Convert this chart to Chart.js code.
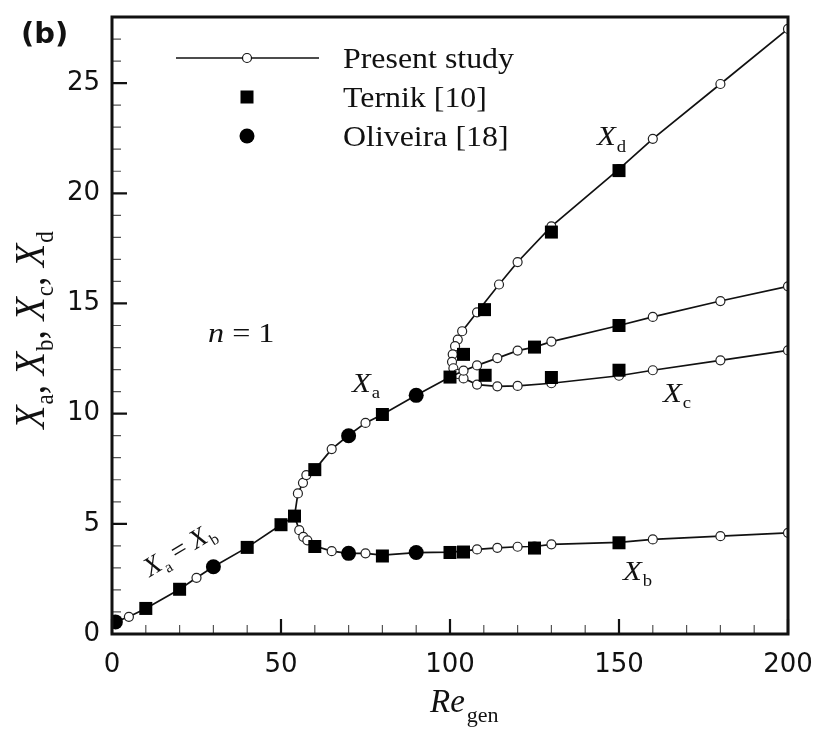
<!DOCTYPE html>
<html>
<head>
<meta charset="utf-8">
<script src="https://cdn.jsdelivr.net/npm/chart.js@4.4.1/dist/chart.umd.min.js"></script>
<style>
html, body { margin: 0; padding: 0; background: #fff; }
#wrap { width: 817px; height: 733px; }
</style>
</head>
<body>
<div id="wrap"><canvas id="chart"></canvas></div>
<script>
// Present study, X_a = X_b up to the first bifurcation, then X_a
const presentA = [
    [1, 0.55], [5, 0.78], [10, 1.16], [20, 2.03], [25, 2.55], [30, 3.05], [40, 3.93], [50, 4.96],
    [54, 5.35], [55, 6.38], [56.5, 6.86], [57.5, 7.21], [60, 7.46], [65, 8.39], [70, 9.02], [75, 9.58],
    [80, 9.96], [90, 10.83], [100, 11.66], [104, 11.95], [108, 12.19], [114, 12.52], [120, 12.86],
    [125, 13.02], [130, 13.27], [150, 14.0], [160, 14.39], [180, 15.11], [200, 15.78]
];
// Present study, X_b branch
const presentB = [
    [54, 5.35], [55.4, 4.71], [56.6, 4.41], [57.8, 4.25], [60, 3.99], [65, 3.76], [70, 3.66], [75, 3.66],
    [80, 3.58], [90, 3.69], [100, 3.72], [104, 3.76], [108, 3.84], [114, 3.91], [120, 3.96], [125, 3.97],
    [130, 4.07], [150, 4.16], [160, 4.29], [180, 4.44], [200, 4.59]
];
// Present study, X_d branch then X_c branch (through the turning point near Re = 100)
const presentCD = [
    [200, 27.46], [180, 24.96], [160, 22.47], [150, 21.1], [130, 18.5], [120, 16.88], [114.5, 15.86],
    [108, 14.6], [103.6, 13.74], [102.3, 13.36], [101.5, 13.06], [100.8, 12.69], [100.6, 12.35],
    [101, 12.06], [102.3, 11.8], [104, 11.6], [108, 11.32], [114, 11.24], [120, 11.26], [130, 11.38],
    [150, 11.72], [160, 11.97], [180, 12.42], [200, 12.87]
];
const ternik = [
    [10, 1.16], [20, 2.03], [40, 3.93], [50, 4.96], [54, 5.35], [60, 7.46], [80, 9.96], [100, 11.66],
    [60, 3.97], [80, 3.54], [100, 3.7], [104, 3.72], [125, 3.9], [150, 4.14],
    [104, 12.69], [110.2, 14.72], [130, 18.24], [150, 21.03],
    [110.4, 11.74], [130, 11.64], [150, 11.97], [125, 13.02], [150, 14.0]
];
const oliveira = [
    [1, 0.55], [30, 3.05], [70, 9.0], [90, 10.83], [70, 3.66], [90, 3.70]
];

const xMajor = [0, 50, 100, 150, 200];
const xMinor = [10, 20, 30, 40, 60, 70, 80, 90, 110, 120, 130, 140, 160, 170, 180, 190];
const yMajor = [0, 5, 10, 15, 20, 25];
const yMinor = [1, 2, 3, 4, 6, 7, 8, 9, 11, 12, 13, 14, 16, 17, 18, 19, 21, 22, 23, 24, 26, 27];

const legendItems = ['Present study', 'Ternik [10]', 'Oliveira [18]'];

const toXY = arr => arr.map(p => ({ x: p[0], y: p[1] }));

const SERIF = '"Liberation Serif", "Times New Roman", serif';

function presentSet(data) {
    return {
        data: toXY(data),
        showLine: true,
        borderColor: '#111',
        borderWidth: 1.7,
        pointStyle: 'circle',
        pointRadius: 4.5,
        pointBackgroundColor: '#fff',
        pointBorderColor: '#222',
        pointBorderWidth: 1.2,
        tension: 0,
        order: 2
    };
}

// text with optional horizontal stretch
function stretchText(ctx, text, x, y, font, sx) {
    ctx.save();
    ctx.font = font;
    ctx.translate(x, y);
    ctx.scale(sx, 1);
    ctx.fillText(text, 0, 0);
    const w = ctx.measureText(text).width * sx;
    ctx.restore();
    return w;
}

function subText(ctx, main, sub, x, y, size, sx) {
    let w = stretchText(ctx, main, x, y, 'italic ' + size + 'px ' + SERIF, sx);
    w += stretchText(ctx, sub, x + w + 1, y + size * 0.22, Math.round(size * 0.6) + 'px ' + SERIF, sx);
    return w + 1;
}

function noPadding(scale) {
    scale.paddingLeft = 0;
    scale.paddingRight = 0;
    scale.paddingTop = 0;
    scale.paddingBottom = 0;
}

const decor = {
    id: 'decor',
    afterDatasetsDraw(chart) {
        const { ctx, chartArea: a, scales: { x, y } } = chart;
        ctx.save();
        ctx.fillStyle = '#111';
        ctx.textBaseline = 'alphabetic';
        ctx.textAlign = 'left';

        // ticks pointing inward
        ctx.strokeStyle = '#555';
        ctx.lineWidth = 1.2;
        ctx.beginPath();
        xMinor.forEach(v => { const px = x.getPixelForValue(v); ctx.moveTo(px, a.bottom); ctx.lineTo(px, a.bottom - 9); });
        yMinor.forEach(v => { const py = y.getPixelForValue(v); ctx.moveTo(a.left, py); ctx.lineTo(a.left + 9, py); });
        ctx.stroke();
        ctx.strokeStyle = '#111';
        ctx.lineWidth = 2.2;
        ctx.beginPath();
        xMajor.forEach(v => { const px = x.getPixelForValue(v); ctx.moveTo(px, a.bottom); ctx.lineTo(px, a.bottom - 15); });
        yMajor.forEach(v => { const py = y.getPixelForValue(v); ctx.moveTo(a.left, py); ctx.lineTo(a.left + 15, py); });
        ctx.stroke();

        // frame
        ctx.lineWidth = 3;
        ctx.strokeRect(a.left, a.top, a.right - a.left, a.bottom - a.top);

        // legend
        const lx = a.left + 64, ly0 = a.top + 41, dy = 39;
        ctx.lineWidth = 1.7;
        ctx.beginPath();
        ctx.moveTo(lx, ly0); ctx.lineTo(lx + 143, ly0);
        ctx.stroke();
        ctx.beginPath();
        ctx.arc(lx + 71, ly0, 4.5, 0, Math.PI * 2);
        ctx.fillStyle = '#fff'; ctx.fill();
        ctx.lineWidth = 1.2; ctx.stroke();
        ctx.fillStyle = '#000';
        ctx.fillRect(lx + 71 - 6.5, ly0 + dy - 6.5, 13, 13);
        ctx.beginPath();
        ctx.arc(lx + 71, ly0 + 2 * dy, 7.5, 0, Math.PI * 2);
        ctx.fill();
        ctx.fillStyle = '#111';
        legendItems.forEach((t, i) => {
            stretchText(ctx, t, lx + 167, ly0 + i * dy + 10, '29px ' + SERIF, 1.1);
        });

        // curve annotations
        subText(ctx, 'X', 'd', x.getPixelForValue(143.5), y.getPixelForValue(22.17), 28, 1.1);
        subText(ctx, 'X', 'a', x.getPixelForValue(71), y.getPixelForValue(10.97), 28, 1.1);
        subText(ctx, 'X', 'c', x.getPixelForValue(163), y.getPixelForValue(10.52), 28, 1.1);
        subText(ctx, 'X', 'b', x.getPixelForValue(151.2), y.getPixelForValue(2.45), 28, 1.1);

        ctx.save();
        ctx.translate(x.getPixelForValue(11.2), y.getPixelForValue(2.58));
        ctx.rotate(-31 * Math.PI / 180);
        let w = subText(ctx, 'X', 'a', 0, 0, 27, 1.0);
        w += stretchText(ctx, ' = ', w, 0, '27px ' + SERIF, 1.0);
        subText(ctx, 'X', 'b', w, 0, 27, 1.0);
        ctx.restore();

        let nx = x.getPixelForValue(28.4), ny = y.getPixelForValue(13.24);
        let nw = stretchText(ctx, 'n', nx, ny, 'italic 28px ' + SERIF, 1.15);
        stretchText(ctx, ' = 1', nx + nw, ny, '28px ' + SERIF, 1.15);

        // axis titles
        let rw = stretchText(ctx, 'Re', 430, 712, 'italic 33px ' + SERIF, 1.0);
        stretchText(ctx, 'gen', 430 + rw + 2, 722, '21px ' + SERIF, 1.05);

        ctx.save();
        ctx.translate(44, 330);
        ctx.rotate(-Math.PI / 2);
        ctx.scale(1, 1.1);
        const parts = ['a', 'b', 'c', 'd'];
        ctx.font = 'italic 38px ' + SERIF;
        const xw = ctx.measureText('X').width;
        ctx.font = '23px ' + SERIF;
        let total = 0;
        parts.forEach((p, i) => {
            total += xw + 1 + ctx.measureText(p).width;
            if (i < 3) { ctx.font = '38px ' + SERIF; total += ctx.measureText(', ').width; ctx.font = '23px ' + SERIF; }
        });
        let cx = -total / 2;
        parts.forEach((p, i) => {
            cx += subText(ctx, 'X', p, cx, 0, 38, 1.0);
            if (i < 3) cx += stretchText(ctx, ', ', cx, 0, '38px ' + SERIF, 1.0);
        });
        ctx.restore();

        // panel label
        ctx.font = 'bold 29px "DejaVu Sans", sans-serif';
        ctx.fillText('(b)', 21, 43);

        ctx.restore();
    }
};

new Chart(document.getElementById('chart'), {
    type: 'scatter',
    data: {
        datasets: [
            Object.assign(presentSet(presentA), { label: 'Present study' }),
            presentSet(presentB),
            presentSet(presentCD),
            {
                label: 'Ternik [10]',
                data: toXY(ternik),
                pointStyle: 'rect',
                pointRadius: 9.2,
                pointBackgroundColor: '#000',
                pointBorderColor: '#000',
                pointBorderWidth: 0,
                order: 1
            },
            {
                label: 'Oliveira [18]',
                data: toXY(oliveira),
                pointStyle: 'circle',
                pointRadius: 7.5,
                pointBackgroundColor: '#000',
                pointBorderColor: '#000',
                pointBorderWidth: 0,
                order: 0
            }
        ]
    },
    options: {
        responsive: true,
        maintainAspectRatio: false,
        animation: false,
        layout: { padding: { left: 0, top: 17, right: 29, bottom: 0 } },
        plugins: { legend: { display: false }, tooltip: { enabled: false } },
        scales: {
            x: {
                type: 'linear',
                min: 0,
                max: 200,
                grid: { display: false, drawTicks: false },
                border: { display: false },
                ticks: {
                    stepSize: 50,
                    padding: 16,
                    color: '#111',
                    font: { family: '"DejaVu Sans", sans-serif', size: 26 }
                },
                afterFit: scale => { scale.height = 99; noPadding(scale); }
            },
            y: {
                type: 'linear',
                min: 0,
                max: 28,
                grid: { display: false, drawTicks: false },
                border: { display: false },
                ticks: {
                    stepSize: 5,
                    includeBounds: false,
                    padding: 12,
                    color: '#111',
                    font: { family: '"DejaVu Sans", sans-serif', size: 26 }
                },
                afterFit: scale => { scale.width = 112; noPadding(scale); }
            }
        }
    },
    plugins: [decor]
});
</script>
</body>
</html>
